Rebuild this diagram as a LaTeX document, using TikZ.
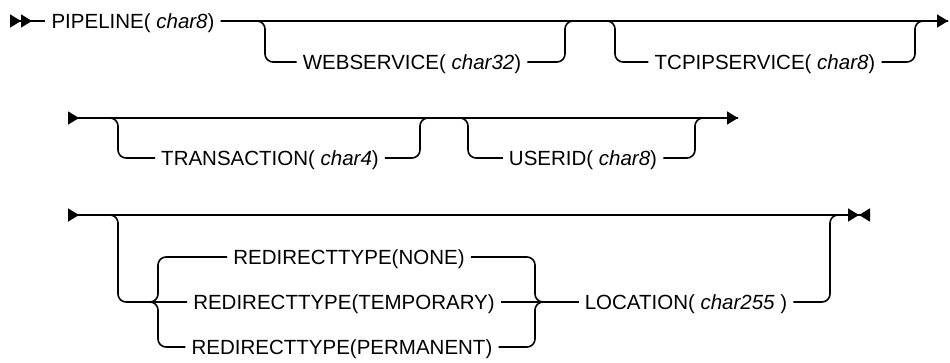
\documentclass[tikz,border=0pt]{standalone}
\usepackage{fontspec}
\setmainfont{Liberation Sans}
\usetikzlibrary{arrows.meta,positioning}
\tikzset{
  rt/.tip={Triangle[length=11pt, width=13pt]},
  lt/.tip={Triangle[reversed, length=11pt, width=13pt]}
}

\begin{document}
\begin{tikzpicture}[x=1pt, y=-1pt,
      kw/.style={inner xsep=6pt, inner ysep=0pt, text height=14.5pt, text depth=0pt, font=\fontsize{20.5}{24}\selectfont},
      rail/.style={line width=1.6pt, rounded corners=8pt},
      twin/.style={{lt[] lt[]}-},
      arr/.style={-{rt[]}},
      row/.style={{lt[]}-{rt[]}},
      stop/.style={{lt[]}-{rt[] lt[]}}
    ]
    \useasboundingbox (0,0) rectangle (950,362);

    % first line
    \coordinate (s1) at (10,21);
    \coordinate (e1) at (948,21);
    \coordinate (j1) at (265,21);
    \coordinate (j2) at (565,21);
    \coordinate (j3) at (615,21);
    \coordinate (j4) at (915,21);
    \node[kw] (pipe) at (133,21) {PIPELINE( \textit{char8})};
    \node[kw] (ws) at (412,62) {WEBSERVICE( \textit{char32})};
    \node[kw] (tcp) at (765,62) {TCPIPSERVICE( \textit{char8})};

    % second line
    \coordinate (s2) at (68,118);
    \coordinate (e2) at (738,118);
    \coordinate (k1) at (118,118);
    \coordinate (k2) at (420,118);
    \coordinate (k3) at (468,118);
    \coordinate (k4) at (695,118);
    \node[kw] (tr) at (270,158) {TRANSACTION( \textit{char4})};
    \node[kw] (uid) at (583,158) {USERID( \textit{char8})};

    % third line
    \coordinate (s3) at (68,215);
    \coordinate (e3) at (870,215);
    \coordinate (m1) at (118,215);
    \coordinate (fork) at (140,302);
    \coordinate (m2) at (158,302);
    \coordinate (m3) at (535,302);
    \coordinate (m4) at (830,215);
    \node[kw] (temp) at (344,302) {REDIRECTTYPE(TEMPORARY)};
    \node[kw, above=45pt of temp.center, anchor=center, xshift=5pt] (none) {REDIRECTTYPE(NONE)};
    \node[kw, below=45pt of temp.center, anchor=center, xshift=-2pt] (perm) {REDIRECTTYPE(PERMANENT)};
    \node[kw] (loc) at (686,302) {LOCATION( \textit{char255} )};

    \draw[rail, twin] (s1) -- (pipe);
    \draw[rail, arr] (pipe) -- (e1);
    \draw[rail] (pipe) -| (j1 |- ws) -- (ws);
    \draw[rail] (ws) -| (j2) -| (j3 |- tcp) -- (tcp);
    \draw[rail] (tcp) -| (j4) -- (e1);

    \draw[rail, row] (s2) -- (e2);
    \draw[rail] (s2) -| (k1 |- tr) -- (tr);
    \draw[rail] (tr) -| (k2) -| (k3 |- uid) -- (uid);
    \draw[rail] (uid) -| (k4) -- (e2);

    \draw[rail, stop] (s3) -- (e3);
    \draw[rail] (s3) -| (m1 |- temp) -- (temp);
    \draw[rail] (fork) -| (m2 |- none) -- (none);
    \draw[rail] (fork) -| (m2 |- perm) -- (perm);
    \draw[rail] (none) -| (m3) -- (loc);
    \draw[rail] (temp) -- (loc);
    \draw[rail] (perm) -| (m3) -- (loc);
    \draw[rail] (loc) -| (m4) -- (e3);
  \end{tikzpicture}
\end{document}
